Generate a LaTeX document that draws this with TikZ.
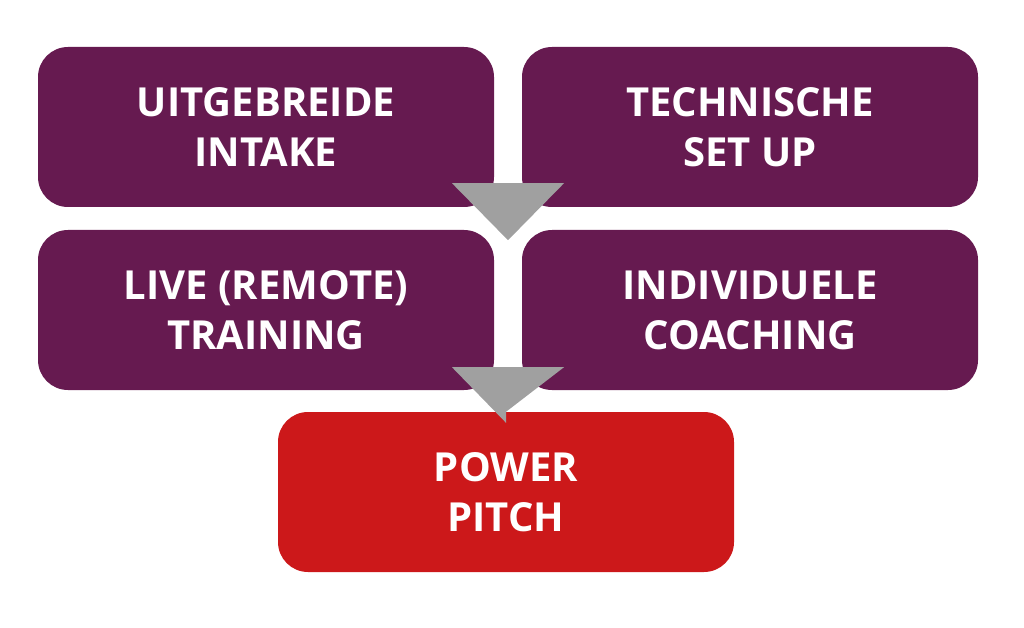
\documentclass[tikz,border=0pt]{standalone}
\usepackage{fontspec}
\setmainfont{Open Sans}
\usetikzlibrary{positioning,calc}
\definecolor{stepplum}{RGB}{102,26,80}
\definecolor{pitchred}{RGB}{204,24,26}
\definecolor{arrowgray}{RGB}{160,160,160}
\tikzset{
  stepbox/.style={rectangle, rounded corners=30pt, minimum width=456pt, minimum height=160pt,
    inner sep=0pt, align=center, text=white, font=\fontsize{40}{50}\selectfont\bfseries},
  plum/.style={stepbox, fill=stepplum},
  pitch/.style={stepbox, fill=pitchred},
  pointer/.style={fill=arrowgray, draw=none}
}
\begin{document}
\begin{tikzpicture}[x=1pt,y=-1pt]
\useasboundingbox (0,0) rectangle (1024,628);
% Top row
\node[plum] (intake) at (266,127) {UITGEBREIDE\\INTAKE};
\node[plum] (setup) at (750,127) {TECHNISCHE\\SET UP};
% Middle row
\node[plum] (training) at (266,310) {LIVE (REMOTE)\\TRAINING};
\node[plum] (coaching) at (750,310) {INDIVIDUELE\\COACHING};
% Result
\node[pitch] (power) at (506,492) {POWER\\PITCH};
% Pointers
\coordinate (gap1) at ($(intake.south east)!0.5!(setup.south west)$);
\coordinate (gap2) at ($(training.south east)!0.5!(coaching.south west)$);
\fill[pointer] ($(gap1)+(-56,-24)$) -- ($(gap1)+(56,-24)$) -- ($(gap1)+(0,33)$) -- cycle;
\fill[pointer] ($(gap2)+(-56,-23)$) -- ($(gap2)+(56,-23)$) -- (power.north) -- ++(0,11) -- cycle;
\end{tikzpicture}
\end{document}
